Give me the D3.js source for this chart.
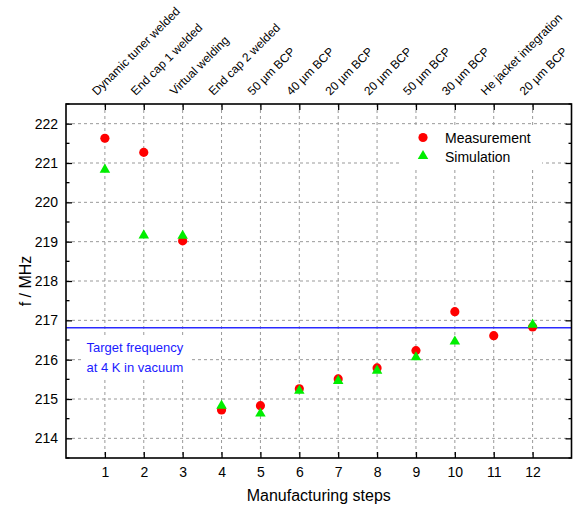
<!DOCTYPE html>
<html>
<head>
<meta charset="utf-8">
<script src="https://cdn.jsdelivr.net/npm/d3@7"></script>
<style>
  body { margin: 0; background: #fff; }
  text { font-family: Arial, "Liberation Sans", sans-serif; fill: #000; }
</style>
</head>
<body>
<svg id="chart" width="573" height="508"></svg>
<script>
// Chart data
var steps = [1, 2, 3, 4, 5, 6, 7, 8, 9, 10, 11, 12];
var stepLabels = ["Dynamic tuner welded", "End cap 1 welded", "Virtual welding", "End cap 2 welded",
  "50 µm BCP", "40 µm BCP", "20 µm BCP", "20 µm BCP", "50 µm BCP", "30 µm BCP",
  "He jacket integration", "20 µm BCP"];
var measurement = [221.63, 221.27, 219.02, 214.72, 214.83, 215.26, 215.51, 215.79, 216.23, 217.22, 216.61, 216.83];
var simSteps = [1, 2, 3, 4, 5, 6, 7, 8, 9, 10, 12];
var simulation = [220.83, 219.16, 219.15, 214.83, 214.63, 215.21, 215.46, 215.72, 216.06, 216.46, 216.89];
var targetFreq = 216.81;
var yTicks = [214, 215, 216, 217, 218, 219, 220, 221, 222];

var svg = d3.select("#chart");
var margin = {top: 104, right: 1.5, bottom: 50, left: 66};
var width = 573 - margin.left - margin.right;
var height = 508 - margin.top - margin.bottom;

var x = d3.scaleLinear().domain([0, 13]).range([0, width]);
var y = d3.scaleLinear().domain([213.5, 222.5]).range([height, 0]);

var g = svg.append("g").attr("transform", "translate(" + margin.left + "," + margin.top + ")");

// Grid lines
g.append("g").selectAll("line").data(steps).enter().append("line")
  .attr("x1", d => x(d)).attr("x2", d => x(d))
  .attr("y1", 0).attr("y2", height)
  .attr("stroke", "#999").attr("stroke-dasharray", "3,3");
g.append("g").selectAll("line").data(yTicks).enter().append("line")
  .attr("x1", 0).attr("x2", width)
  .attr("y1", d => y(d)).attr("y2", d => y(d))
  .attr("stroke", "#999").attr("stroke-dasharray", "3,3");

// Target frequency line + label
g.append("line")
  .attr("x1", 0).attr("x2", width)
  .attr("y1", y(targetFreq)).attr("y2", y(targetFreq))
  .attr("stroke", "#2a2aff").attr("stroke-width", 1.5);
g.append("rect").attr("x", 18).attr("y", 231).attr("width", 106).attr("height", 42).attr("fill", "#fff");
var tgt = g.append("text").attr("font-size", 13).style("fill", "#1a1aff");
tgt.append("tspan").attr("x", 20.5).attr("y", 248).text("Target frequency");
tgt.append("tspan").attr("x", 20.5).attr("y", 268).text("at 4 K in vacuum");

// Axes (ticks point inward)
var xBottom = d3.axisBottom(x).tickValues(steps).tickSize(-6).tickPadding(9).tickFormat(d3.format("d"));
var xTop = d3.axisTop(x).tickValues(steps).tickSize(-6).tickFormat("");
var yLeft = d3.axisLeft(y).tickValues(yTicks).tickSize(-6).tickPadding(8).tickFormat(d3.format("d"));
var yRight = d3.axisRight(y).tickValues(yTicks).tickSize(-6).tickFormat("");
var minorTicks = d3.range(213.5, 222.6, 1);

function styleAxis(sel) {
  sel.select(".domain").remove();
  sel.selectAll(".tick line").attr("stroke", "#000").attr("stroke-width", 1.3);
  sel.selectAll(".tick text").attr("font-size", 14).attr("font-family", "Arial, 'Liberation Sans', sans-serif");
}

g.append("g").attr("transform", "translate(0," + height + ")").call(xBottom).call(styleAxis);
g.append("g").call(xTop).call(styleAxis);
g.append("g").call(yLeft).call(styleAxis);
g.append("g").attr("transform", "translate(" + width + ",0)").call(yRight).call(styleAxis);

// Minor ticks on left/right
g.append("g").selectAll("line").data(minorTicks).enter().append("line")
  .attr("x1", 0).attr("x2", 3.5).attr("y1", d => y(d)).attr("y2", d => y(d))
  .attr("stroke", "#000").attr("stroke-width", 1.3);
g.append("g").selectAll("line").data(minorTicks).enter().append("line")
  .attr("x1", width).attr("x2", width - 3).attr("y1", d => y(d)).attr("y2", d => y(d))
  .attr("stroke", "#000").attr("stroke-width", 1.3);

// Frame
g.append("rect").attr("width", width).attr("height", height)
  .attr("fill", "none").attr("stroke", "#000").attr("stroke-width", 1.6);

// Top rotated step labels
g.append("g").selectAll("text").data(steps).enter().append("text")
  .attr("transform", d => "translate(" + (x(d) - 8) + ",-8) rotate(-45)")
  .attr("font-size", 12)
  .text((d, i) => stepLabels[i]);

// Data points
var circle = d3.symbol().type(d3.symbolCircle).size(66);
var tri = d3.symbol().type(d3.symbolTriangle).size(48);
g.append("g").selectAll("path").data(measurement).enter().append("path")
  .attr("d", circle)
  .attr("transform", (d, i) => "translate(" + x(steps[i]) + "," + y(d) + ")")
  .attr("fill", "#ff0000");
g.append("g").selectAll("path").data(simulation).enter().append("path")
  .attr("d", tri)
  .attr("transform", (d, i) => "translate(" + x(simSteps[i]) + "," + y(d) + ")")
  .attr("fill", "#00ee00");

// Legend
var leg = g.append("g");
leg.append("rect").attr("x", 334).attr("y", 23).attr("width", 142).attr("height", 40).attr("fill", "#fff");
leg.append("path").attr("d", circle).attr("transform", "translate(357,33.5)").attr("fill", "#ff0000");
leg.append("path").attr("d", tri).attr("transform", "translate(357,52)").attr("fill", "#00ee00");
leg.append("text").attr("x", 379).attr("y", 39).attr("font-size", 14).text("Measurement");
leg.append("text").attr("x", 379).attr("y", 58).attr("font-size", 14).text("Simulation");

// Axis titles
svg.append("text")
  .attr("x", margin.left + width / 2).attr("y", 501)
  .attr("text-anchor", "middle").attr("font-size", 16)
  .text("Manufacturing steps");
svg.append("text")
  .attr("transform", "translate(31," + (margin.top + height / 2) + ") rotate(-90)")
  .attr("text-anchor", "middle").attr("font-size", 16)
  .text("f / MHz");
</script>
</body>
</html>
